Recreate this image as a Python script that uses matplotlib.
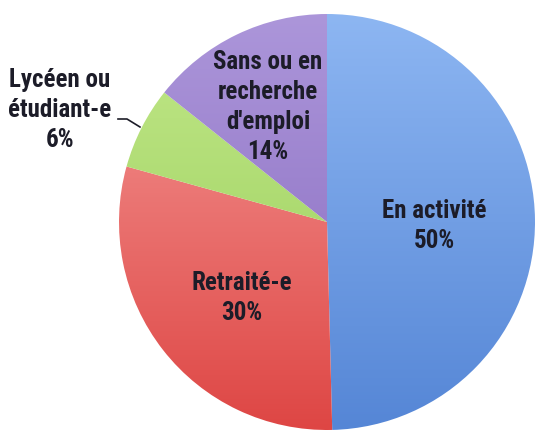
import matplotlib
matplotlib.use("Agg")
import matplotlib.pyplot as plt
import numpy as np
from matplotlib.colors import LinearSegmentedColormap
from matplotlib import font_manager

labels = ["En activité", "Retraité-e", "Lycéen ou\nétudiant-e", "Sans ou en\nrecherche\nd'emploi"]
values = [49.6, 29.7, 6.4, 14.3]
pct_labels = ["50%", "30%", "6%", "14%"]
top_colors = ["#8db6f2", "#f59a98", "#c2e88a", "#ac96da"]
bottom_colors = ["#5586d6", "#de4644", "#96cc56", "#8668be"]

W, H = 539, 435
fig = plt.figure(figsize=(W / 100, H / 100), dpi=100)
ax = fig.add_axes([0, 0, 1, 1])

cx, cy, r = 327, H - 223, 208
wedges, _ = ax.pie(values, startangle=90, counterclock=False, center=(cx, cy),
                   radius=r, colors=["none"] * 4, frame=True,
                   wedgeprops=dict(linewidth=0))
ax.set_xlim(0, W)
ax.set_ylim(0, H)
ax.set_aspect("equal")
ax.axis("off")

grad = np.linspace(1, 0, 256).reshape(-1, 1)
for w, c1, c2 in zip(wedges, top_colors, bottom_colors):
    cmap = LinearSegmentedColormap.from_list("g", [c2, c1])
    im = ax.imshow(grad, cmap=cmap, extent=(cx - r, cx + r, cy - r, cy + r),
                   aspect="auto", origin="upper", zorder=1, vmin=0, vmax=1)
    im.set_clip_path(w)
    w.set_zorder(2)

names = {f.name for f in font_manager.fontManager.ttflist}
cands = [n for n in ["Liberation Sans Narrow", "Roboto Condensed", "Open Sans Condensed",
                     "Noto Sans Display", "Roboto", "Lato"] if n in names]
fam = cands[0] if cands else "DejaVu Sans"
font = dict(family=[fam, "DejaVu Sans"], fontweight="bold", fontstretch="condensed",
            fontsize=18, color="#1c1c28", ha="center", va="center", linespacing=1.3)

positions = [(434, H - 226), (242, H - 298), (60, H - 110), (268, H - 107)]
for lab, p, pos in zip(labels, pct_labels, positions):
    ax.text(pos[0], pos[1], lab + "\n" + p, zorder=5, **font)

ax.plot([118, 127, 140], [H - 120, H - 120, H - 128], color="#1c1c28", lw=1.2, zorder=5)

fig.savefig("out.png", dpi=100)
